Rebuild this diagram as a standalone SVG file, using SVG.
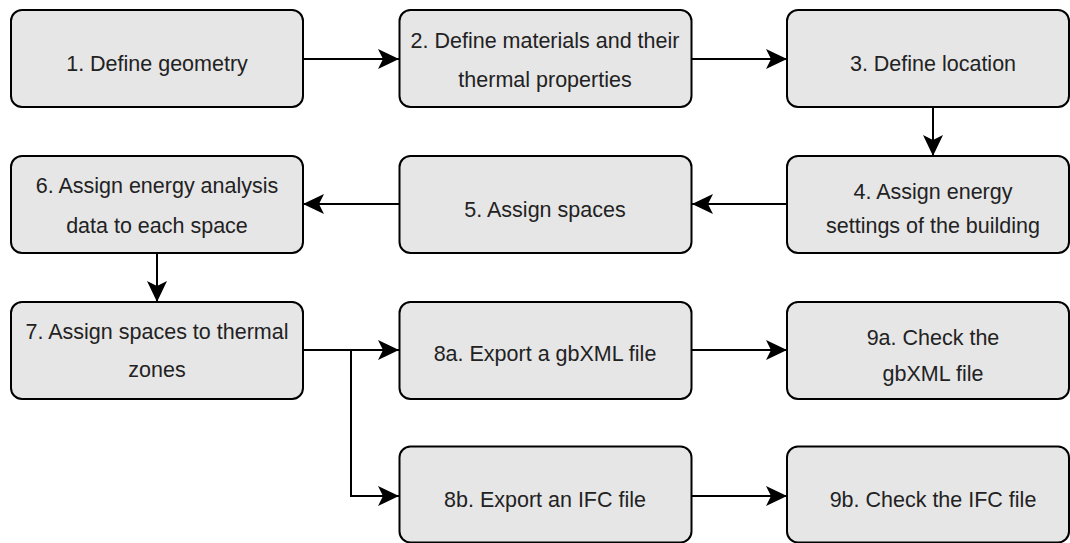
<svg xmlns="http://www.w3.org/2000/svg" width="1070" height="543" viewBox="0 0 1070 543">
<style>
.box{fill:#e6e6e6;stroke:#000;stroke-width:2}
.lbl{font-family:"Liberation Sans",Arial,sans-serif;font-size:21.5px;fill:#222;text-anchor:middle}
.con{fill:none;stroke:#000;stroke-width:2}
</style>
<defs>
<marker id="ah" markerUnits="userSpaceOnUse" viewBox="0 0 21 20" markerWidth="21" markerHeight="20" refX="21" refY="10" orient="auto">
<path d="M0,0 L21,10 L0,20 L5,10 Z" fill="#000"/>
</marker>
</defs>
<rect width="1070" height="543" fill="#fff"/>
<g id="connectors">
<path class="con" d="M303,59 H399" marker-end="url(#ah)"/>
<path class="con" d="M692,59 H787" marker-end="url(#ah)"/>
<path class="con" d="M933,107 V156" marker-end="url(#ah)"/>
<path class="con" d="M787,204 H692" marker-end="url(#ah)"/>
<path class="con" d="M400,204 H303" marker-end="url(#ah)"/>
<path class="con" d="M157,253 V302" marker-end="url(#ah)"/>
<path class="con" d="M303,350 H399" marker-end="url(#ah)"/>
<path class="con" d="M351,350 V496 H399" marker-end="url(#ah)"/>
<path class="con" d="M691,350 H787" marker-end="url(#ah)"/>
<path class="con" d="M691,496 H787" marker-end="url(#ah)"/>
</g>
<g id="n1"><rect class="box" x="11" y="10" width="292" height="97" rx="11"/><text class="lbl" x="157" y="71">1. Define geometry</text></g>
<g id="n2"><rect class="box" x="399.5" y="10" width="292" height="97" rx="11"/><text class="lbl" x="545" y="48">2. Define materials and their</text><text class="lbl" x="545" y="87">thermal properties</text></g>
<g id="n3"><rect class="box" x="787" y="10" width="282" height="97" rx="11"/><text class="lbl" x="933" y="71">3. Define location</text></g>
<g id="n4"><rect class="box" x="787" y="156" width="282" height="97" rx="11"/><text class="lbl" x="933" y="199">4. Assign energy</text><text class="lbl" x="933" y="233">settings of the building</text></g>
<g id="n5"><rect class="box" x="399.5" y="156" width="292" height="97" rx="11"/><text class="lbl" x="545" y="217">5. Assign spaces</text></g>
<g id="n6"><rect class="box" x="11" y="156" width="292" height="97" rx="11"/><text class="lbl" x="157" y="193">6. Assign energy analysis</text><text class="lbl" x="157" y="233">data to each space</text></g>
<g id="n7"><rect class="box" x="11" y="302" width="292" height="97" rx="11"/><text class="lbl" x="157" y="339">7. Assign spaces to thermal</text><text class="lbl" x="157" y="377">zones</text></g>
<g id="n8a"><rect class="box" x="399.5" y="302" width="292" height="97" rx="11"/><text class="lbl" x="545" y="361">8a. Export a gbXML file</text></g>
<g id="n9a"><rect class="box" x="787" y="302" width="282" height="97" rx="11"/><text class="lbl" x="933" y="345">9a. Check the</text><text class="lbl" x="933" y="381">gbXML file</text></g>
<g id="n8b"><rect class="box" x="399.5" y="446.5" width="292" height="96" rx="11"/><text class="lbl" x="545" y="507">8b. Export an IFC file</text></g>
<g id="n9b"><rect class="box" x="787" y="446.5" width="282" height="96" rx="11"/><text class="lbl" x="933" y="507">9b. Check the IFC file</text></g>
</svg>
